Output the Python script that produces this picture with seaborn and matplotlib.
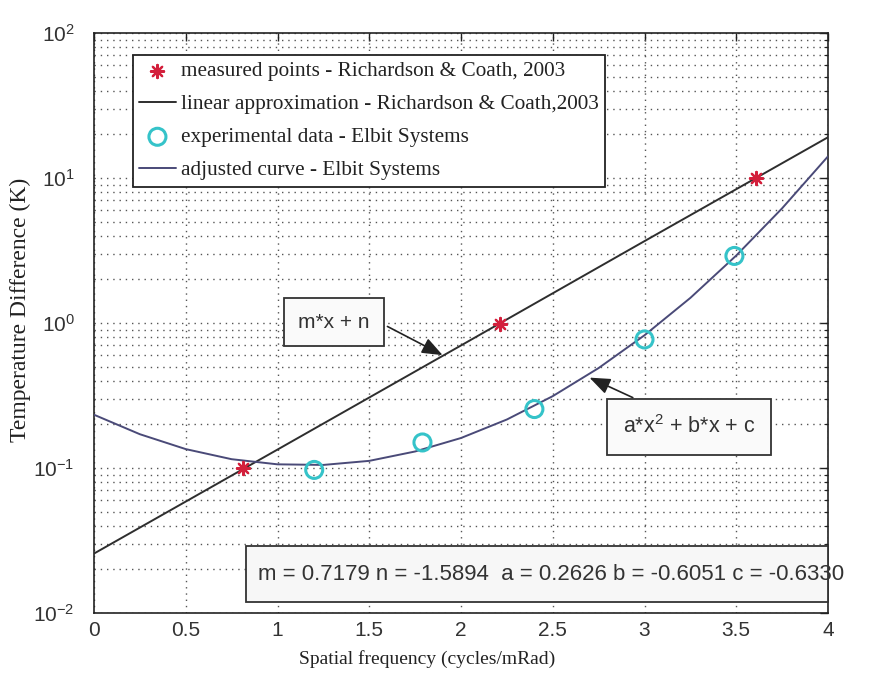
import matplotlib
matplotlib.use("Agg")
import matplotlib.pyplot as plt
import seaborn as sns
import pandas as pd
from matplotlib.ticker import LogLocator, FixedLocator, NullFormatter, LogFormatterSciNotation
from matplotlib.patches import Rectangle

# ---------------- data ----------------
meas_x = [0.81, 2.21, 3.61]
meas_y = [0.100, 0.98, 10.0]

lin_x = [0.0, 1.0, 2.0, 3.0, 4.0]
lin_y = [0.0257, 0.134, 0.70, 3.67, 19.1]

exp_x = [1.20, 1.79, 2.40, 3.00, 3.49]
exp_y = [0.097, 0.150, 0.255, 0.77, 2.90]

fit_x = [0.0, 0.25, 0.5, 0.75, 1.0, 1.25, 1.5, 1.75, 2.0,
         2.25, 2.5, 2.75, 3.0, 3.25, 3.5, 3.75, 4.0]
fit_y = [0.233, 0.171, 0.135, 0.115, 0.106, 0.105, 0.112, 0.130, 0.161,
         0.216, 0.313, 0.489, 0.823, 1.49, 2.92, 6.18, 14.1]

x_ticks = [0, 0.5, 1, 1.5, 2, 2.5, 3, 3.5, 4]
x_ticklabels = ["0", "0.5", "1", "1.5", "2", "2.5", "3", "3.5", "4"]

labels = ["measured points - Richardson & Coath, 2003",
          "linear approximation - Richardson & Coath,2003",
          "experimental data - Elbit Systems",
          "adjusted curve - Elbit Systems"]
param_text = "m = 0.7179 n = -1.5894  a = 0.2626 b = -0.6051 c = -0.6330"
# ---------------------------------------------------------------

sns.set_style("white")
plt.rcParams["font.family"] = ["Liberation Sans", "DejaVu Sans"]
plt.rcParams["mathtext.fontset"] = "custom"
plt.rcParams["mathtext.rm"] = "Liberation Sans"
plt.rcParams["mathtext.it"] = "Liberation Sans"
plt.rcParams["axes.unicode_minus"] = False

W, H = 869, 678
fig = plt.figure(figsize=(W / 100, H / 100), dpi=100)
L, R, T, B = 94, 828, 33, 613
ax = fig.add_axes([L / W, 1 - B / H, (R - L) / W, (B - T) / H])

df_meas = pd.DataFrame({"x": meas_x, "y": meas_y})
df_lin = pd.DataFrame({"x": lin_x, "y": lin_y})
df_exp = pd.DataFrame({"x": exp_x, "y": exp_y})
df_fit = pd.DataFrame({"x": fit_x, "y": fit_y})

sns.scatterplot(data=df_meas, x="x", y="y", ax=ax, marker=(8, 2, 0),
                color="#d3203c", s=90, linewidth=1.6, label=labels[0], zorder=5)
sns.lineplot(data=df_lin, x="x", y="y", ax=ax, color="#2e2e2e", lw=1.4,
             label=labels[1], zorder=4, sort=False)
sns.scatterplot(data=df_exp, x="x", y="y", ax=ax, marker="o", s=150,
                facecolors="none", edgecolor="#35c3c9", linewidth=2.2,
                label=labels[2], zorder=5)
sns.lineplot(data=df_fit, x="x", y="y", ax=ax, color="#4a4a78", lw=1.4,
             label=labels[3], zorder=4, sort=False)

ax.set_yscale("log")
ax.set_xlim(0, 4)
ax.set_ylim(1e-2, 1e2)

ax.xaxis.set_major_locator(FixedLocator(x_ticks))
ax.set_xticklabels(x_ticklabels)
ax.yaxis.set_major_locator(LogLocator(base=10, numticks=10))
ax.yaxis.set_major_formatter(LogFormatterSciNotation())
ax.yaxis.set_minor_locator(LogLocator(base=10, subs=range(2, 10), numticks=20))
ax.yaxis.set_minor_formatter(NullFormatter())

ax.tick_params(which="both", direction="in", top=True, right=True,
               colors="#222222", labelcolor="#333333")
ax.tick_params(which="major", length=6, width=1.0, labelsize=15)
ax.tick_params(axis="x", which="major", pad=6)
ax.tick_params(axis="y", which="major", pad=14)
ax.tick_params(which="minor", length=3, width=0.8)

grid_kw = dict(color="#555555", linestyle=(0, (1, 3.5)), linewidth=1.0)
ax.grid(which="major", axis="x", **grid_kw)
ax.grid(which="both", axis="y", **grid_kw)
ax.set_axisbelow(True)

for s in ax.spines.values():
    s.set_color("#222222")
    s.set_linewidth(1.2)

ax.set_xlabel("Spatial frequency (cycles/mRad)", family="Liberation Serif",
              fontsize=14, color="#222222")
ax.set_ylabel("Temperature Difference (K)", family="Liberation Serif",
              fontsize=17, color="#222222")
ax.xaxis.set_label_coords((427 - L) / (R - L), -(650 - B) / (B - T))
ax.yaxis.set_label_coords(-(L - 31) / (R - L), 1 - (310 - T) / (B - T))

handles, lbls = ax.get_legend_handles_labels()
leg = ax.legend(handles, lbls, loc="upper left",
                bbox_to_anchor=(133 / W, 1 - 55 / H), bbox_transform=fig.transFigure,
                borderaxespad=0, prop={"family": "Liberation Serif", "size": 15.3},
                frameon=True, fancybox=False, framealpha=1, edgecolor="#222222",
                handlelength=1.7, handletextpad=0.25, labelspacing=0.62,
                borderpad=0.3)
leg.get_frame().set_linewidth(1.3)
for t in leg.get_texts():
    t.set_color("#222222")

arrow_kw = dict(arrowstyle="-|>,head_length=0.9,head_width=0.35",
                color="#222222", lw=1.2, mutation_scale=14, shrinkB=0)

ax.annotate("m*x + n", xy=(1.90, 0.60), xycoords="data",
            xytext=((334 - L) / (R - L), 1 - (322 - T) / (B - T)),
            textcoords="axes fraction", ha="center", va="center",
            fontsize=15, family="Liberation Sans", color="#333333",
            bbox=dict(boxstyle="square,pad=0.7", fc="#fafafa", ec="#333333", lw=1.3),
            arrowprops=dict(relpos=(1.0, 0.75), **arrow_kw), zorder=6)

ax.annotate("a*x$^{2}$ + b*x + c", xy=(2.70, 0.42), xycoords="data",
            xytext=((689 - L) / (R - L), 1 - (427 - T) / (B - T)),
            textcoords="axes fraction", ha="center", va="center",
            fontsize=15.5, family="Liberation Sans", color="#333333",
            bbox=dict(boxstyle="square,pad=0.75", fc="#fafafa", ec="#333333", lw=1.3),
            arrowprops=dict(relpos=(0.37, 1.0), **arrow_kw), zorder=6)

x0 = (246 - L) / (R - L)
y0 = 1 - (602 - T) / (B - T)
y1 = 1 - (546 - T) / (B - T)
ax.add_patch(Rectangle((x0, y0), 1 - x0, y1 - y0, transform=ax.transAxes,
                       fc="#f7f7f7", ec="#333333", lw=1.3, zorder=6, clip_on=False))
ax.text((258 - L) / (R - L), (y0 + y1) / 2, param_text, transform=ax.transAxes,
        ha="left", va="center", fontsize=16, color="#333333", zorder=7,
        clip_on=False)

fig.savefig("out.png", dpi=100, facecolor="white")
